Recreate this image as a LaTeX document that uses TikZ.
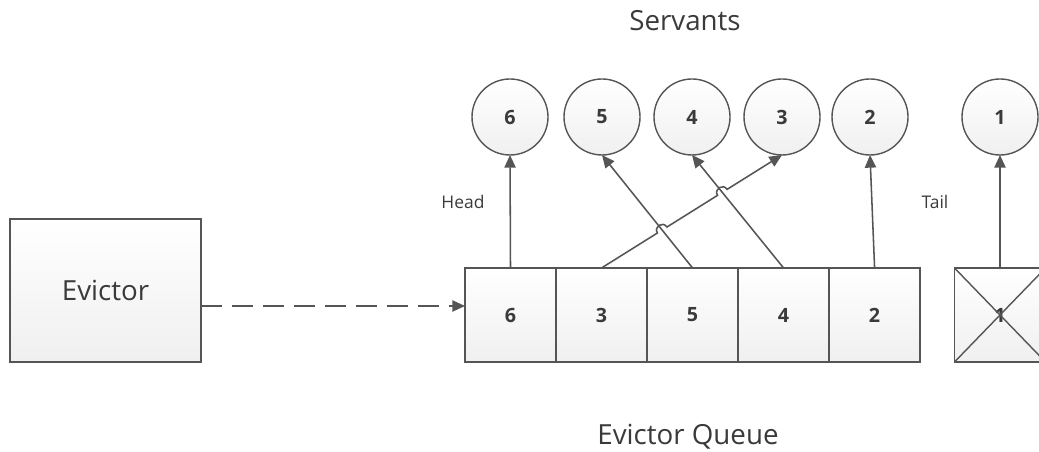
\documentclass[tikz,border=0pt]{standalone}
\usepackage{fontspec}
\setmainfont{Open Sans}
\usetikzlibrary{arrows.meta, positioning, intersections, calc}
\definecolor{linegray}{HTML}{555555}
\definecolor{textgray}{HTML}{3A3A3A}
\tikzset{
  box/.style={draw=linegray, line width=1pt, top color=white, bottom color=black!6,
    inner sep=0pt, outer sep=0pt, text=textgray},
  cell/.style={box, minimum width=2.275cm, minimum height=2.35cm,
    font=\bfseries\fontsize{14}{16}\selectfont},
  servant/.style={box, circle, minimum size=1.9cm,
    font=\bfseries\fontsize{14}{16}\selectfont},
  caption/.style={text=textgray, font=\fontsize{19.7}{23}\selectfont},
  tag/.style={text=textgray, font=\fontsize{12.4}{15}\selectfont},
  link/.style={draw=linegray, line width=1.1pt, -{Triangle[length=9pt, width=8pt]}},
  hop/.style={bend left=90, looseness=1.7}
}

\begin{document}
\begin{tikzpicture}[x=0.025cm, y=0.025cm]
  \clip (0,0) rectangle (1039,452);

  %--- evictor ---
  \node[box, minimum width=4.775cm, minimum height=3.575cm, caption] (evictor)
    at (105.5,161.5) {Evictor};

  %--- evictor queue (head to tail) ---
  \node[cell] (q6) at (510.5,137) {6};
  \node[cell, right=0pt of q6] (q3) {3};
  \node[cell, right=0pt of q3] (q5) {5};
  \node[cell, right=0pt of q5] (q4) {4};
  \node[cell, right=0pt of q4] (q2) {2};
  \node[cell] (q1) at (1000,137) {1};
  \draw[linegray, line width=1pt]
    (q1.south west) -- (q1.north east)
    (q1.north west) -- (q1.south east);

  %--- servants ---
  \foreach \n/\x in {6/510, 5/602, 4/692, 3/782, 2/870, 1/1000}
    \node[servant] (s\n) at (\x,335) {\n};

  %--- labels ---
  \node[caption] (servants) at (685,431) {Servants};
  \node[caption] (queue) at (688,15) {Evictor Queue};
  \node[tag] (head) at (463,250) {Head};
  \node[tag] (tail) at (935,250) {Tail};

  %--- evictor feeds the queue ---
  \coordinate (feed) at (0,146);
  \draw[link, dash pattern=on 15pt off 7pt]
    (evictor.east |- feed) -- (q6.west |- feed);

  %--- cells point at their servants ---
  \draw[link] (q6.north) -- (s6.south);
  \draw[link] (q2.north) -- (s2.south);
  \draw[link] (q1.north) -- (s1.south);
  \draw[link, name path=l5] (q5.north) -- (s5.south);
  \draw[link, name path=l4] (q4.north) -- (s4.south);
  \path[name path=l3] (q3.north) -- (s3.south);
  \path[name intersections={of=l3 and l5, by=x5}];
  \path[name intersections={of=l3 and l4, by=x4}];
  \draw[link] (q3.north)
    -- ($(x5)!4pt!(q3.north)$) to[hop] ($(x5)!4pt!(s3.south)$)
    -- ($(x4)!4pt!(q3.north)$) to[hop] ($(x4)!4pt!(s3.south)$)
    -- (s3.south);
\end{tikzpicture}
\end{document}
